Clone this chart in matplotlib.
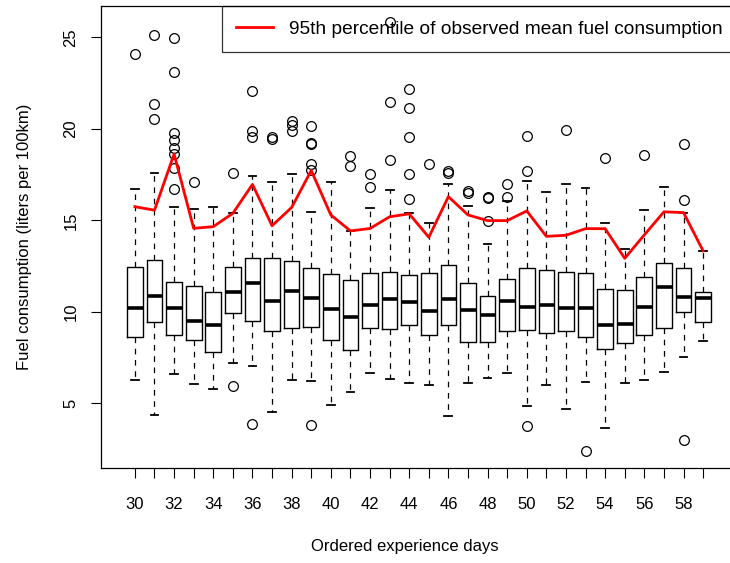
import matplotlib
matplotlib.use('Agg')
import matplotlib.pyplot as plt

plt.rcParams['font.family'] = ['Liberation Sans', 'DejaVu Sans']

# Ordered experience days (one box per day)
days = list(range(30, 60))

# Box statistics (liters per 100km)
whis_hi = [16.70, 17.58, 15.74, 15.63, 15.74, 15.38, 17.43, 17.09, 17.54, 15.47,
           17.07, 14.44, 15.67, 16.63, 15.38, 14.87, 16.96, 15.79, 13.70, 16.07,
           17.14, 16.54, 16.99, 16.76, 14.87, 13.44, 15.56, 16.81, 15.42, 13.33]
q3 = [12.43, 12.81, 11.62, 11.42, 11.09, 12.43, 12.92, 12.92, 12.77, 12.37,
      12.06, 11.73, 12.10, 12.19, 11.99, 12.11, 12.53, 11.55, 10.88, 11.78,
      12.41, 12.28, 12.19, 12.10, 11.26, 11.17, 11.88, 12.68, 12.37, 11.06]
medians = [10.19, 10.86, 10.22, 9.51, 9.29, 11.07, 11.55, 10.60, 11.13, 10.77,
           10.15, 9.73, 10.37, 10.68, 10.55, 10.05, 10.68, 10.09, 9.82, 10.60,
           10.28, 10.39, 10.20, 10.20, 9.27, 9.31, 10.24, 11.33, 10.79, 10.74]
q1 = [8.60, 9.42, 8.71, 8.47, 7.78, 9.91, 9.51, 8.96, 9.13, 9.16,
      8.46, 7.91, 9.09, 9.06, 9.27, 8.74, 9.26, 8.36, 8.36, 8.94,
      8.99, 8.84, 8.94, 8.64, 7.94, 8.31, 8.71, 9.09, 10.00, 9.42]
whis_lo = [6.28, 4.36, 6.62, 6.06, 5.79, 7.21, 7.03, 4.50, 6.27, 6.23,
           4.91, 5.64, 6.67, 6.34, 6.12, 6.01, 4.30, 6.08, 6.39, 6.67,
           4.87, 6.01, 4.70, 6.14, 3.66, 6.12, 6.25, 6.72, 7.54, 8.42]
outliers = [
    [24.10],
    [25.10, 21.33, 20.53],
    [24.97, 23.13, 19.78, 19.36, 18.95, 18.62, 17.83, 16.70],
    [17.07],
    [],
    [17.61, 5.95],
    [22.08, 19.86, 19.57, 3.88],
    [19.57, 19.42],
    [20.45, 20.21, 19.90],
    [20.14, 19.22, 19.18, 18.05, 17.72, 3.79],
    [],
    [18.52, 17.98],
    [17.52, 16.83],
    [25.83, 21.48, 18.29],
    [22.15, 21.15, 19.53, 17.54, 16.14],
    [18.07],
    [17.71, 17.61],
    [16.61, 16.47],
    [16.27, 16.20, 14.98],
    [16.96, 16.25],
    [19.62, 17.71, 3.74],
    [],
    [19.95],
    [2.39],
    [18.38],
    [],
    [18.58],
    [],
    [19.16, 16.10, 3.00],
    [],
]

# 95th percentile of observed mean fuel consumption
p95 = [15.74, 15.55, 18.62, 14.56, 14.65, 15.38, 16.96, 14.70, 15.70, 17.72,
       15.29, 14.42, 14.55, 15.19, 15.35, 14.07, 16.29, 15.29, 14.98, 14.98,
       15.51, 14.12, 14.18, 14.54, 14.54, 12.92, 14.20, 15.46, 15.42, 13.33]

stats = []
for i in range(len(days)):
    stats.append({'whislo': whis_lo[i], 'q1': q1[i], 'med': medians[i],
                  'q3': q3[i], 'whishi': whis_hi[i], 'fliers': outliers[i]})

fig = plt.figure(figsize=(7.3, 5.63), dpi=100)
# the right edge of the plot region lies just outside the picture, as in the original
ax = fig.add_axes([101 / 730, 95 / 563, 636 / 730, 462 / 563])

ax.bxp(stats, positions=days, widths=0.8, capwidths=0.4,
       boxprops=dict(color='black', linewidth=1),
       whiskerprops=dict(color='black', linewidth=0.9, linestyle=(0, (4.5, 4.5))),
       capprops=dict(color='black', linewidth=1.3),
       medianprops=dict(color='black', linewidth=2.6, solid_capstyle='butt'),
       flierprops=dict(marker='o', markerfacecolor='none', markeredgecolor='black',
                       markersize=7, markeredgewidth=0.9))

ax.plot(days, p95, color='red', linewidth=2,
        label='95th percentile of observed mean fuel consumption')

ax.set_xlim(28.27, 60.73)
ax.set_ylim(1.46, 26.71)
ax.set_xticks(days)
ax.set_xticklabels([str(d) if d % 2 == 0 else '' for d in days])
ax.set_yticks([5, 10, 15, 20, 25])
ax.tick_params(axis='both', labelsize=12, length=7.2, width=0.8)
ax.tick_params(axis='x', pad=14)
ax.tick_params(axis='y', pad=9, labelrotation=90)
for lab in ax.get_yticklabels():
    lab.set_va('center')

for sp in ax.spines.values():
    sp.set_linewidth(0.9)

ax.set_xlabel('Ordered experience days', fontsize=12)
ax.set_ylabel('Fuel consumption (liters per 100km)', fontsize=12)
ax.xaxis.set_label_coords((405 - 101) / 636, -(539 - 468) / 462)
ax.yaxis.set_label_coords(-(101 - 32) / 636, 0.5)

leg = ax.legend(loc='upper right', borderaxespad=0, fancybox=False,
                edgecolor='black', fontsize=13.8, handlelength=1.93,
                handletextpad=0.83, borderpad=0.75)
leg.get_frame().set_facecolor('none')
leg.get_frame().set_linewidth(0.9)

fig.savefig('out.png', dpi=100)
